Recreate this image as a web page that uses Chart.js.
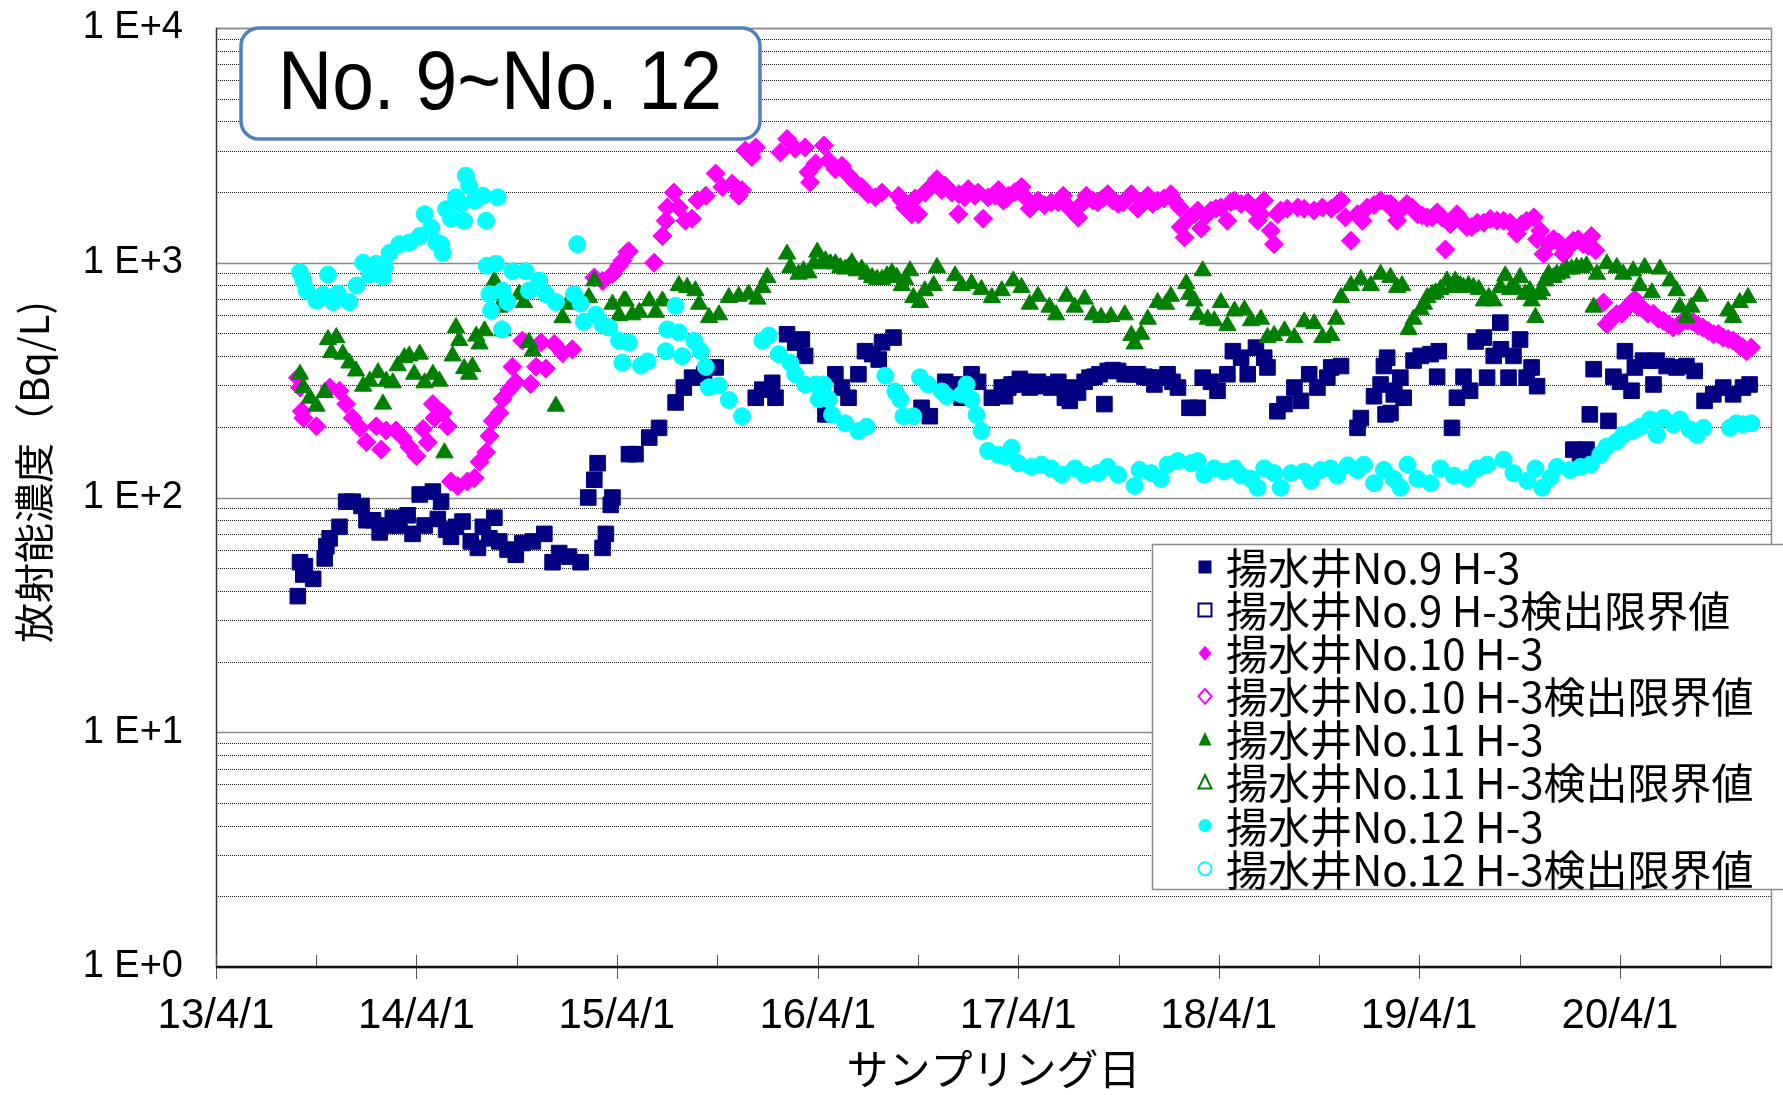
<!DOCTYPE html>
<html lang="ja">
<head>
<meta charset="utf-8">
<title>揚水井 No.9~No.12 H-3</title>
<script src="https://cdn.jsdelivr.net/npm/chart.js@4.4.1/dist/chart.umd.min.js"></script>
<style>
  html, body { margin: 0; padding: 0; background: #fff; }
  #wrap { width: 1783px; height: 1095px; }
</style>
</head>
<body>
<div id="wrap"><canvas id="h3Chart" width="1783" height="1095"></canvas></div>
<script>
// sampling dates are Excel serial numbers (41365 = 2013/4/1), values in Bq/L
const no9Dates = [
  41514, 41518, 41524, 41527, 41542, 41563, 41566, 41572, 41590, 41602, 41614, 41630, 41639, 41651, 41663,
  41675, 41687, 41699, 41714, 41723, 41736, 41745, 41760, 41769, 41775, 41784, 41793, 41802, 41814, 41829,
  41842, 41851, 41863, 41872, 41881, 41896, 41911, 41923, 41942, 41963, 41978, 41990, 42008, 42029, 42043,
  42054, 42060, 42069, 42075, 42084, 42087, 42117,
  42129, 42154, 42172, 42202, 42217, 42232, 42254, 42275, 42348, 42360, 42378, 42384, 42405, 42420, 42432,
  42438, 42475, 42493, 42505, 42517, 42535, 42547, 42560, 42572, 42578, 42599, 42650, 42665, 42693, 42711,
  42723, 42741, 42753, 42778, 42796,
  42802, 42814, 42829, 42847, 42862, 42886, 42899, 42920, 42935, 42947, 42965, 42983, 42989, 43008, 43032,
  43056, 43074, 43098, 43117, 43138, 43153, 43162, 43177, 43189, 43207, 43217, 43232, 43244, 43259, 43274,
  43280, 43298, 43311, 43329, 43341, 43356, 43371, 43389, 43396, 43414, 43444, 43450, 43474, 43486, 43492,
  43495, 43510,
  42808, 42823, 42838, 42856, 42874, 42911, 42926, 42956, 42974, 42998, 43020, 43044, 43065, 43086, 43107,
  43498, 43504, 43511, 43522, 43528, 43546, 43559, 43577, 43589, 43592, 43616, 43625, 43637, 43649, 43659,
  43674, 43680, 43692, 43704, 43705, 43719, 43728, 43740, 43752, 43761, 43771, 43837, 43849, 43861, 43867,
  43874, 43901, 43910, 43922, 43931, 43943, 43949, 43964, 43983, 43989, 44007, 44025, 44043, 44058, 44076,
  44092, 44110, 44128, 44146, 44158
];
const no9Values = [
  38, 53, 47, 51, 45, 55, 62, 67, 75, 96, 96, 92, 80, 80, 71,
  76, 82, 76, 84, 70, 103, 76, 106, 81, 96, 73, 68, 75, 79, 65,
  61, 75, 67, 82, 65, 60, 57, 64, 65, 70, 53, 58, 56, 53, 100,
  119, 140, 61, 70, 93, 100, 153,
  153, 180, 198, 254, 294, 324, 335, 358, 266, 288, 308, 266, 496, 457, 471,
  401, 226, 335, 294, 266, 335, 420, 408, 387, 458, 480, 241, 222, 311, 303,
  266, 335, 311, 266, 294,
  270, 303, 320, 294, 311, 294, 311, 258, 280, 311, 327, 250, 346, 346, 335,
  327, 303, 335, 294, 241, 241, 324, 311, 285, 335, 420, 394, 335, 435, 394,
  358, 233, 250, 294, 258, 335, 294, 324, 358, 363, 198, 218, 270, 303, 363,
  226, 275,
  294, 303, 311, 298, 303, 266, 294, 324, 335, 349, 335, 335, 324, 324, 311,
  394, 229, 285, 324, 266, 383, 401, 408, 327, 420, 198, 266, 327, 285, 462,
  480, 324, 401, 556, 428, 324, 401, 471, 324, 358, 298, 160, 153, 160, 226,
  352, 212, 327, 311, 420, 285, 358, 383, 303, 383, 363, 358, 363, 346, 258,
  275, 294, 275, 294, 303
];

const no10Dates = [
  41514, 41518, 41521, 41524, 41548, 41572, 41590, 41602, 41614, 41627, 41639, 41657, 41666, 41675, 41693,
  41705, 41717, 41730, 41742, 41751, 41760, 41763, 41778, 41787, 41793, 41805, 41823, 41836, 41845, 41857,
  41863, 41869, 41881, 41887, 41899, 41905, 41911, 41923, 41938, 41948, 41957, 41966, 41981, 41996, 42014,
  42054, 42069, 42087, 42105, 42117,
  42099, 42114, 42163, 42178, 42184, 42187, 42199, 42208, 42220, 42232, 42242, 42257, 42275, 42287, 42305,
  42317, 42323, 42329, 42341, 42348, 42393, 42405, 42420, 42438, 42444, 42447, 42457, 42472, 42481, 42493,
  42505, 42517, 42529, 42541, 42553, 42566, 42578, 42608, 42620, 42632, 42644, 42656, 42678, 42693, 42717,
  42718, 42735, 42747, 42762, 42771, 42790, 42805,
  42614, 42638, 42666, 42687, 42705, 42729, 42753, 42784,
  42808, 42832, 42847, 42862, 42886, 42908, 42923, 42935, 42950, 42971, 42989, 43008, 43032, 43044, 43062,
  43080, 43104, 43120, 43122, 43129, 43147, 43159, 43177, 43195, 43207, 43220, 43244, 43262, 43274, 43286,
  43292, 43304, 43335, 43365, 43396, 43414, 43432, 43444, 43462, 43486, 43510,
  42799, 42820, 42841, 42856, 42874, 42899, 42914, 42944, 42962, 42980, 42998, 43017, 43026, 43053, 43071,
  43092, 43110, 43138, 43153, 43168, 43186, 43213, 43232, 43253, 43268, 43298, 43316, 43347, 43380, 43407,
  43422, 43453, 43474, 43498,
  43504, 43516, 43534, 43553, 43571, 43589, 43604, 43613, 43625, 43643, 43662, 43686, 43710, 43734, 43752,
  43765, 43777, 43783, 43801, 43819, 43837, 43855, 43870, 43877, 43892, 43898, 43916, 43934, 43949, 43964,
  43983, 44001, 44019, 44037, 44055, 44073, 44092, 44110, 44128, 44140, 44152, 44161,
  43522, 43543, 43562, 43580, 43598, 43634, 43652, 43674, 43698, 43722, 43743, 43771, 43792, 43810, 43828,
  43846, 43864,
  43907, 43925, 43943, 43955, 43973, 43992, 44010, 44028, 44046, 44064, 44083, 44101, 44119, 44134, 44146
];
const no10Values = [
  324, 294, 233, 218, 201, 294, 285, 250, 218, 198, 172, 201, 160, 193, 193,
  180, 164, 150, 196, 172, 250, 218, 229, 201, 117, 112, 117, 121, 142, 156,
  183, 212, 229, 263, 288, 361, 310, 466, 304, 361, 458, 354, 451, 412, 428,
  866, 837, 894, 1020, 1120,
  970, 1110, 1000, 1300, 1510, 1720, 1990, 1720, 1510, 1540, 1850, 1930, 2400, 2100, 2170,
  1930, 2040, 3010, 2820, 3100, 2950, 3370, 3060, 3100, 2430, 2200, 2650, 3160, 2720, 2500,
  2590, 2360, 2200, 2100, 1960, 1900, 1990, 1930, 1720, 1610, 1610, 1990, 2270, 2130, 1610,
  1960, 2060, 1930, 1540, 1900, 2040, 1880,
  1840, 1880, 2100, 2040, 1990, 1900, 1990, 1930,
  1930, 2100, 1700, 1840, 1810, 1930, 1670, 1560, 1930, 1810, 1960, 1780, 1960, 1700, 1930,
  1840, 1960, 1720, 1420, 1280, 1610, 1400, 1670, 1720, 1510, 1840, 1810, 1510, 1840, 1370,
  1200, 1670, 1720, 1670, 1700, 1840, 1240, 1610, 1720, 1840, 1670,
  1840, 2000, 1880, 1780, 1760, 1810, 1760, 1810, 1840, 1880, 1840, 1810, 1900, 1840, 1780,
  1880, 1840, 1560, 1670, 1590, 1700, 1810, 1780, 1720, 1610, 1610, 1700, 1700, 1720, 1780,
  1560, 1510, 1760, 1780,
  1780, 1510, 1780, 1610, 1560, 1640, 1140, 1460, 1610, 1420, 1480, 1540, 1510, 1330, 1510,
  1560, 1370, 1090, 1260, 1090, 1240, 1200, 1300, 1130, 677, 547, 604, 642, 700, 636,
  607, 566, 530, 566, 560, 530, 497, 480, 466, 442, 420, 435,
  1670, 1720, 1590, 1560, 1560, 1510, 1420, 1480, 1510, 1480, 1460, 1260, 1200, 1220, 1160,
  1260, 1180,
  577, 607, 677, 647, 607, 577, 547, 540, 566, 540, 513, 497, 473, 457, 435
];

const no11Dates = [
  41518, 41524, 41536, 41548, 41563, 41569, 41575, 41584, 41596, 41608, 41620, 41633, 41645, 41660, 41669,
  41675, 41687, 41696, 41708, 41717, 41726, 41736, 41745, 41760, 41772, 41781, 41796, 41802, 41808, 41817,
  41826, 41832, 41839, 41845, 41854, 41872, 41881, 41887, 41917, 41926, 41935, 41942, 41984, 41996, 42005,
  42044, 42054, 42087, 42099, 42111,
  42108, 42123, 42136, 42154, 42166, 42178, 42208, 42223, 42238, 42245, 42263, 42281, 42299, 42317, 42335,
  42351, 42360, 42369, 42405, 42411, 42426, 42444, 42460, 42475, 42493, 42511, 42523, 42541, 42560, 42578,
  42596, 42614, 42629, 42635, 42647, 42656, 42672, 42678, 42711, 42723, 42741, 42759, 42778, 42796,
  42435, 42454, 42469, 42484, 42502, 42517, 42532, 42550, 42569, 42587, 42605, 42620,
  42817, 42832, 42847, 42862, 42883, 42895, 42914, 42929, 42947, 42962, 42977, 42995, 43020, 43032, 43038,
  43050, 43062, 43080, 43095, 43104, 43132, 43138, 43147, 43153, 43162, 43171, 43183, 43195, 43207, 43220,
  43238, 43250, 43268, 43280, 43292, 43311, 43329, 43347, 43365, 43380, 43396, 43405, 43414, 43432, 43450,
  43468, 43486, 43504,
  43516, 43525, 43537, 43546, 43559, 43571, 43586, 43607, 43622, 43637, 43655, 43674, 43692, 43713, 43722,
  43740, 43749, 43761, 43768, 43780, 43792, 43807, 43825, 43843, 43861, 43874, 43880, 43898, 43916, 43928,
  43946, 43958, 43967, 43980, 43995, 44013, 44025, 44031, 44043, 44052, 44067, 44119, 44128, 44140, 44155,
  43565, 43580, 43595, 43616, 43631, 43646, 43665, 43683, 43704, 43731, 43758, 43774, 43786, 43801, 43816,
  43834, 43852
];
const no11Values = [
  335, 294, 265, 245, 280, 471, 414, 480, 408, 374, 346, 298, 313, 340, 250,
  313, 308, 364, 394, 401, 335, 408, 308, 335, 313, 155, 401, 530, 466, 354,
  335, 361, 487, 451, 513, 837, 647, 513, 735, 677, 458, 421, 245, 583, 666,
  711, 837, 666, 595, 688,
  688, 600, 615, 688, 615, 688, 800, 785, 760, 666, 585, 600, 711, 720, 735,
  700, 785, 866, 1089, 955, 894, 905, 1110, 1020, 990, 940, 1000, 940, 866, 850,
  905, 800, 924, 711, 677, 760, 800, 955, 880, 800, 815, 770, 711, 760,
  924, 990, 1000, 990, 955, 955, 924, 894, 850, 880, 866, 850,
  837, 785, 666, 720, 647, 600, 720, 647, 700, 600, 585, 590, 600, 490, 451,
  496, 575, 677, 666, 720, 815, 735, 688, 600, 924, 575, 566, 677, 540, 623,
  630, 566, 575, 480, 490, 513, 480, 560, 550, 480, 490, 575, 711, 800, 850,
  800, 894, 866,
  785, 800, 520, 575, 630, 711, 745, 837, 837, 785, 785, 688, 688, 880, 770,
  866, 735, 688, 585, 760, 894, 894, 940, 955, 970, 647, 894, 990, 955, 894,
  924, 800, 955, 745, 940, 837, 760, 647, 585, 647, 720, 623, 585, 677, 711,
  666, 735, 770, 785, 800, 800, 770, 711, 785, 785, 760, 735, 837, 866, 905,
  940, 955
];

const no12Dates = [
  41518, 41524, 41530, 41548, 41560, 41569, 41578, 41587, 41608, 41621, 41633, 41645, 41657, 41669, 41672,
  41681, 41699, 41717, 41736, 41745, 41757, 41766, 41775, 41778, 41784, 41793, 41802, 41811, 41817, 41820,
  41826, 41836, 41851, 41857, 41878, 41858, 41863, 41866, 41875, 41886, 41887, 41896, 41905, 41929, 41935,
  41954, 41966, 41984, 42017, 42023, 42029, 42035, 42057, 42069,
  42081, 42099, 42105, 42117, 42139, 42151, 42184, 42187, 42202, 42208, 42214, 42236, 42248, 42257, 42263,
  42281, 42299, 42323, 42360, 42372, 42390, 42411, 42420, 42438, 42457, 42463, 42472, 42481, 42487, 42511,
  42535, 42550, 42584, 42602, 42611, 42617, 42635, 42647, 42662, 42687, 42696, 42723, 42732, 42741, 42750,
  42759, 42771, 42790, 42802,
  42814, 42826, 42850, 42868, 42886, 42905, 42929, 42947, 42971, 42989, 43008, 43038, 43047, 43068, 43086,
  43098, 43117, 43141, 43153, 43165, 43183, 43201, 43220, 43232, 43250, 43262, 43274, 43292, 43304, 43323,
  43347, 43359, 43377, 43395, 43407, 43426, 43444, 43456, 43474, 43492, 43510,
  43522, 43535, 43553, 43577, 43595, 43619, 43644, 43662, 43680, 43710, 43728, 43753, 43768, 43780, 43795,
  43807, 43831, 43850, 43868, 43886, 43898, 43916, 43928, 43946, 43959, 43977, 43989, 44001, 44019, 44031,
  44049, 44062, 44074, 44122, 44134, 44146, 44161
];
const no12Values = [
  910, 840, 760, 690, 730, 890, 680, 740, 680, 800, 1000, 890, 990, 870, 960,
  1100, 1200, 1220, 1300, 1610, 1410, 1220, 1200, 1100, 1690, 1540, 1900, 1780, 1510, 2350,
  2130, 1840, 1930, 1510, 1900, 970, 735, 625, 990, 520, 760, 680, 920, 920, 760,
  840, 735, 680, 735, 1200, 670, 560, 600, 545,
  530, 465, 375, 457, 365, 380, 420, 520, 655, 505, 400, 465, 420, 360, 295,
  300, 260, 222, 465, 490, 408, 375, 335, 303, 303, 262, 303, 262, 225, 207,
  192, 200, 330, 283, 262, 222, 222, 325, 303, 283, 270, 275, 303, 262, 225,
  192, 158, 152, 150,
  163, 140, 135, 138, 133, 125, 133, 125, 127, 135, 125, 112, 131, 127, 120,
  138, 143, 140, 143, 125, 133, 129, 133, 124, 120, 110, 133, 127, 110, 127,
  129, 118, 131, 133, 124, 137, 131, 138, 115, 131, 120,
  110, 138, 120, 115, 133, 124, 121, 133, 138, 145, 127, 118, 133, 110, 121,
  135, 131, 135, 138, 152, 165, 173, 185, 192, 200, 215, 185, 218, 205, 215,
  195, 185, 198, 198, 207, 205, 207
];

// no detection-limit results in this period
const no9LimitDates = [], no9LimitValues = [];
const no10LimitDates = [], no10LimitValues = [];
const no11LimitDates = [], no11LimitValues = [];
const no12LimitDates = [], no12LimitValues = [];

const seriesLabels = [
  '揚水井No.9 H-3', '揚水井No.9 H-3検出限界値',
  '揚水井No.10 H-3', '揚水井No.10 H-3検出限界値',
  '揚水井No.11 H-3', '揚水井No.11 H-3検出限界値',
  '揚水井No.12 H-3', '揚水井No.12 H-3検出限界値'
];

const yearTicks = [41365, 41730, 42095, 42461, 42826, 43191, 43556, 43922];
const yearLabels = ['13/4/1', '14/4/1', '15/4/1', '16/4/1', '17/4/1', '18/4/1', '19/4/1', '20/4/1'];
const halfYearTicks = [41548, 41913, 42278, 42644, 43009, 43374, 43739, 44105];
const decadeValues = [1, 10, 100, 1000, 10000];
const decadeLabels = ['1 E+0', '1 E+1', '1 E+2', '1 E+3', '1 E+4'];

const toPoints = (dates, values) => dates.map((d, i) => ({ x: d, y: values[i] }));

Chart.defaults.font.family = '"Liberation Sans", Arial, sans-serif';
Chart.defaults.color = '#000';

const JP_FONT = '"Noto Sans CJK JP", "Noto Sans CJK SC", sans-serif';

function drawMarker(ctx, style, x, y, color, filled) {
  const s = 6.5;
  ctx.beginPath();
  if (style === 'rect') {
    ctx.rect(x - s, y - s, 2 * s, 2 * s);
  } else if (style === 'rectRot') {
    ctx.moveTo(x, y - 7.5); ctx.lineTo(x + 6.5, y); ctx.lineTo(x, y + 7.5); ctx.lineTo(x - 6.5, y);
    ctx.closePath();
  } else if (style === 'triangle') {
    ctx.moveTo(x, y - 7.5); ctx.lineTo(x + 6.5, y + 6); ctx.lineTo(x - 6.5, y + 6);
    ctx.closePath();
  } else {
    ctx.arc(x, y, 6.5, 0, Math.PI * 2);
  }
  if (filled) {
    ctx.fillStyle = color;
    ctx.fill();
  } else {
    ctx.fillStyle = '#fff';
    ctx.fill();
    ctx.lineWidth = 2;
    ctx.strokeStyle = color;
    ctx.stroke();
  }
}

const framePlugin = {
  id: 'frame',
  beforeDatasetsDraw(chart) {
    const { ctx, chartArea: a, scales: { y } } = chart;
    ctx.save();
    y.ticks.forEach(t => {
      const py = Math.round(y.getPixelForValue(t.value)) + 0.5;
      ctx.beginPath();
      if (decadeValues.includes(t.value)) {
        ctx.setLineDash([]);
        ctx.strokeStyle = '#8c8c8c';
        ctx.lineWidth = 1.5;
      } else {
        ctx.setLineDash([1, 1]);
        ctx.strokeStyle = '#1a1a1a';
        ctx.lineWidth = 1;
      }
      ctx.moveTo(a.left, py);
      ctx.lineTo(a.right, py);
      ctx.stroke();
    });
    ctx.restore();
  },
  afterDatasetsDraw(chart) {
    const { ctx, chartArea: a, scales: { x } } = chart;
    ctx.save();
    // plot frame
    ctx.strokeStyle = '#8c8c8c';
    ctx.lineWidth = 1.5;
    ctx.beginPath();
    ctx.moveTo(a.left, a.top + 0.5);
    ctx.lineTo(a.right + 0.5, a.top + 0.5);
    ctx.lineTo(a.right + 0.5, a.bottom);
    ctx.stroke();
    ctx.strokeStyle = '#333';
    ctx.beginPath();
    ctx.moveTo(a.left + 0.5, a.top);
    ctx.lineTo(a.left + 0.5, a.bottom);
    ctx.stroke();
    // date axis with year / half-year marks
    ctx.strokeStyle = '#555';
    ctx.lineWidth = 1;
    yearTicks.forEach(v => {
      const px = Math.round(x.getPixelForValue(v)) + 0.5;
      ctx.beginPath();
      ctx.moveTo(px, a.bottom - 12);
      ctx.lineTo(px, a.bottom + 12);
      ctx.stroke();
    });
    halfYearTicks.forEach(v => {
      const px = Math.round(x.getPixelForValue(v)) + 0.5;
      ctx.beginPath();
      ctx.moveTo(px, a.bottom - 12);
      ctx.lineTo(px, a.bottom);
      ctx.stroke();
    });
    ctx.strokeStyle = '#111';
    ctx.lineWidth = 2.5;
    ctx.beginPath();
    ctx.moveTo(a.left, a.bottom);
    ctx.lineTo(a.right + 1, a.bottom);
    ctx.stroke();
    ctx.restore();
  },
  afterDraw(chart) {
    const ctx = chart.ctx;
    ctx.save();

    // well range label
    ctx.beginPath();
    ctx.roundRect(241, 28, 519, 111, 18);
    ctx.fillStyle = '#fff';
    ctx.fill();
    ctx.lineWidth = 3.5;
    ctx.strokeStyle = '#4f81bd';
    ctx.stroke();
    ctx.save();
    ctx.translate(500, 86);
    ctx.scale(1, 1.1);
    ctx.fillStyle = '#000';
    ctx.font = '75px "Liberation Sans", Arial, sans-serif';
    ctx.textAlign = 'center';
    ctx.textBaseline = 'middle';
    ctx.fillText('No. 9~No. 12', 0, 0);
    ctx.restore();

    // legend
    ctx.fillStyle = '#fff';
    ctx.fillRect(1152, 544, 640, 345);
    ctx.strokeStyle = '#8c8c8c';
    ctx.lineWidth = 1.5;
    ctx.strokeRect(1152.5, 544.5, 640, 345);
    ctx.font = '42px ' + JP_FONT;
    ctx.textAlign = 'left';
    ctx.textBaseline = 'middle';
    chart.data.datasets.forEach((ds, i) => {
      const cy = 567 + i * 43.1;
      drawMarker(ctx, ds.pointStyle, 1205, cy, ds.borderColor, ds.backgroundColor !== '#ffffff');
      ctx.fillStyle = '#000';
      ctx.fillText(ds.label, 1226, cy + 1);
    });

    // value axis title
    ctx.translate(34, 472);
    ctx.rotate(-Math.PI / 2);
    ctx.font = '40px ' + JP_FONT;
    ctx.textAlign = 'center';
    ctx.fillStyle = '#000';
    ctx.fillText('放射能濃度（Bq/L)', 0, 0);
    ctx.restore();
  }
};

function series(label, dates, values, style, radius, color, filled, order) {
  return {
    label: label,
    data: toPoints(dates, values),
    pointStyle: style,
    pointRadius: radius,
    pointHoverRadius: radius,
    backgroundColor: filled ? color : '#ffffff',
    borderColor: color,
    borderWidth: filled ? 1 : 1.5,
    order: order
  };
}

new Chart(document.getElementById('h3Chart'), {
  type: 'scatter',
  data: {
    datasets: [
      series(seriesLabels[0], no9Dates, no9Values, 'rect', 11, '#000080', true, 3),
      series(seriesLabels[1], no9LimitDates, no9LimitValues, 'rect', 11, '#000080', false, 3),
      series(seriesLabels[2], no10Dates, no10Values, 'rectRot', 9.5, '#ff00ff', true, 2),
      series(seriesLabels[3], no10LimitDates, no10LimitValues, 'rectRot', 9.5, '#ff00ff', false, 2),
      series(seriesLabels[4], no11Dates, no11Values, 'triangle', 10, '#008000', true, 1),
      series(seriesLabels[5], no11LimitDates, no11LimitValues, 'triangle', 10, '#008000', false, 1),
      series(seriesLabels[6], no12Dates, no12Values, 'circle', 8.5, '#00ffff', true, 0),
      series(seriesLabels[7], no12LimitDates, no12LimitValues, 'circle', 8.5, '#00ffff', false, 0)
    ]
  },
  options: {
    responsive: false,
    animation: false,
    events: [],
    devicePixelRatio: 1,
    layout: { padding: { top: 28, right: 9, left: 0, bottom: 0 } },
    plugins: {
      legend: { display: false },
      tooltip: { enabled: false }
    },
    scales: {
      x: {
        type: 'linear',
        min: 41365,
        max: 44197,
        afterBuildTicks: s => { s.ticks = yearTicks.map(v => ({ value: v })); },
        afterFit: s => { s.height = 128; },
        grid: { display: false },
        border: { display: false },
        ticks: {
          autoSkip: false,
          maxRotation: 0,
          padding: 16,
          font: { size: 42 },
          callback: v => {
            const i = yearTicks.indexOf(v);
            return i < 0 ? '' : yearLabels[i];
          }
        },
        title: {
          display: true,
          text: 'サンプリング日',
          font: { family: JP_FONT, size: 42 },
          padding: { top: 0, bottom: 1 }
        }
      },
      y: {
        type: 'logarithmic',
        min: 1,
        max: 10000,
        afterBuildTicks: s => {
          const t = [];
          for (let e = 0; e < 4; e++) {
            for (let m = 1; m < 10; m++) t.push({ value: m * decadeValues[e] });
          }
          t.push({ value: 10000 });
          s.ticks = t;
        },
        afterFit: s => {
          s.width = 216;
          s.paddingTop = 0;
          s.paddingBottom = 0;
        },
        grid: { display: false },
        border: { display: false },
        ticks: {
          autoSkip: false,
          padding: 25,
          font: { size: 38 },
          callback: v => {
            const i = decadeValues.indexOf(v);
            return i < 0 ? '' : decadeLabels[i];
          }
        }
      }
    }
  },
  plugins: [framePlugin]
});
</script>
</body>
</html>
